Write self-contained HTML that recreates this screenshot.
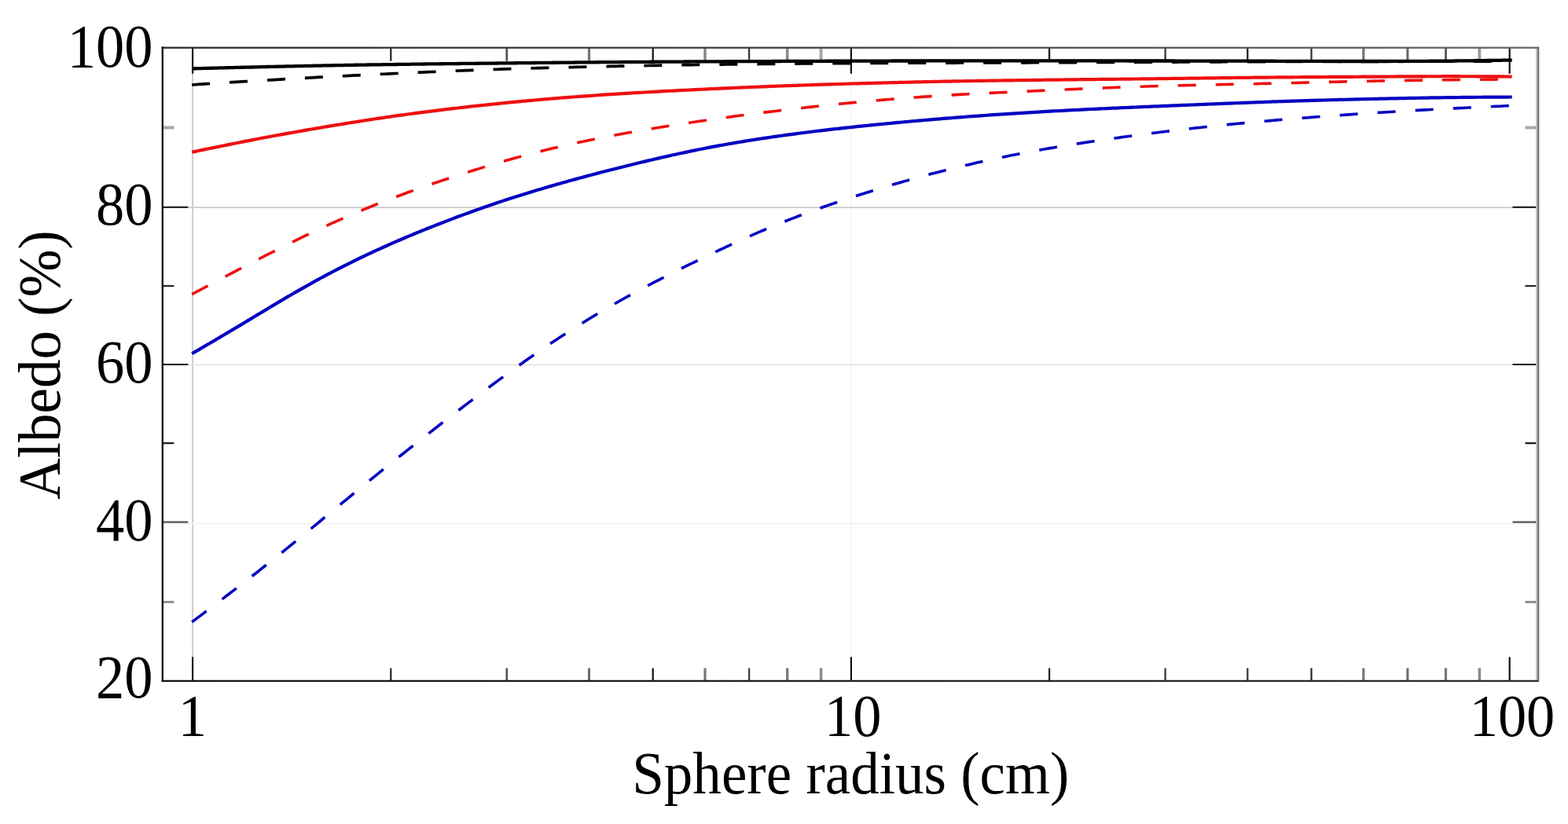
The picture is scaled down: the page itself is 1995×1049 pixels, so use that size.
<!DOCTYPE html>
<html lang="en"><head><meta charset="utf-8"><title>Albedo vs sphere radius</title>
<style>
html,body{margin:0;padding:0;background:#fff;}
body{width:1995px;height:1049px;overflow:hidden;position:relative;}
svg{display:block;position:absolute;left:0;top:0;filter:blur(0.35px);}
text{font-family:"Liberation Serif","DejaVu Serif",serif;fill:#000;}
.tk{font-size:72.5px;}
.ax{font-size:73.1px;}
</style></head><body>
<svg width="1995" height="1049" viewBox="0 0 1995 1049">
<defs>
<linearGradient id="tg" gradientUnits="userSpaceOnUse" x1="206.8" y1="0" x2="1957.0" y2="0"><stop offset="0" stop-color="#2e2e2e"/><stop offset="0.5" stop-color="#444"/><stop offset="1" stop-color="#6a6a6a"/></linearGradient>
<linearGradient id="bg" gradientUnits="userSpaceOnUse" x1="206.8" y1="0" x2="1957.0" y2="0"><stop offset="0" stop-color="#141414"/><stop offset="1" stop-color="#2c2c2c"/></linearGradient>
</defs>
<rect x="0" y="0" width="1995" height="1049" fill="#fff"/>
<g fill="none" stroke-linecap="butt">
<line x1="245.1" y1="60.75" x2="245.1" y2="866.9" stroke="#c6c6c6" stroke-width="1.7"/>
<line x1="1082.9" y1="60.75" x2="1082.9" y2="866.9" stroke="#f7f7f7" stroke-width="2"/>
<line x1="206.8" y1="264.1" x2="1957.0" y2="264.1" stroke="#cccccc" stroke-width="1.8"/>
<line x1="206.8" y1="464.4" x2="1957.0" y2="464.4" stroke="#e3e3e3" stroke-width="1.8"/>
<line x1="206.8" y1="666.5" x2="1957.0" y2="666.5" stroke="#f1f1f1" stroke-width="1.8"/>
</g>
<g fill="none" stroke-linecap="butt">
<line x1="245.1" y1="60.75" x2="245.1" y2="93.75" stroke="#111" stroke-width="2.2"/>
<line x1="245.1" y1="866.9" x2="245.1" y2="836.4" stroke="#111" stroke-width="2.2"/>
<line x1="1082.9" y1="60.75" x2="1082.9" y2="93.75" stroke="#111" stroke-width="2.2"/>
<line x1="1082.9" y1="866.9" x2="1082.9" y2="836.4" stroke="#111" stroke-width="2.2"/>
<line x1="1920.7" y1="60.75" x2="1920.7" y2="93.75" stroke="#111" stroke-width="2.2"/>
<line x1="1920.7" y1="866.9" x2="1920.7" y2="836.4" stroke="#111" stroke-width="2.2"/>
<line x1="497.3" y1="60.75" x2="497.3" y2="77.75" stroke="#222222" stroke-width="2.2"/>
<line x1="497.3" y1="866.9" x2="497.3" y2="850.6" stroke="#222222" stroke-width="2.2"/>
<line x1="644.8" y1="60.75" x2="644.8" y2="77.75" stroke="#555555" stroke-width="2.74"/>
<line x1="644.8" y1="866.9" x2="644.8" y2="850.6" stroke="#555555" stroke-width="2.74"/>
<line x1="749.5" y1="60.75" x2="749.5" y2="77.75" stroke="#777777" stroke-width="3.24"/>
<line x1="749.5" y1="866.9" x2="749.5" y2="850.6" stroke="#6a6a6a" stroke-width="3.05"/>
<line x1="830.7" y1="60.75" x2="830.7" y2="77.75" stroke="#111111" stroke-width="2.2"/>
<line x1="830.7" y1="866.9" x2="830.7" y2="850.6" stroke="#111111" stroke-width="2.2"/>
<line x1="897.0" y1="60.75" x2="897.0" y2="77.75" stroke="#888888" stroke-width="3.49"/>
<line x1="897.0" y1="866.9" x2="897.0" y2="850.6" stroke="#777777" stroke-width="3.24"/>
<line x1="953.1" y1="60.75" x2="953.1" y2="77.75" stroke="#3a3a3a" stroke-width="2.35"/>
<line x1="953.1" y1="866.9" x2="953.1" y2="850.6" stroke="#444444" stroke-width="2.49"/>
<line x1="1001.7" y1="60.75" x2="1001.7" y2="77.75" stroke="#888888" stroke-width="3.49"/>
<line x1="1001.7" y1="866.9" x2="1001.7" y2="850.6" stroke="#777777" stroke-width="3.24"/>
<line x1="1044.6" y1="60.75" x2="1044.6" y2="77.75" stroke="#a4a4a4" stroke-width="3.9"/>
<line x1="1044.6" y1="866.9" x2="1044.6" y2="850.6" stroke="#888888" stroke-width="3.49"/>
<line x1="1335.1" y1="60.75" x2="1335.1" y2="77.75" stroke="#111111" stroke-width="2.2"/>
<line x1="1335.1" y1="866.9" x2="1335.1" y2="850.6" stroke="#222222" stroke-width="2.2"/>
<line x1="1482.6" y1="60.75" x2="1482.6" y2="77.75" stroke="#444444" stroke-width="2.49"/>
<line x1="1482.6" y1="866.9" x2="1482.6" y2="850.6" stroke="#444444" stroke-width="2.49"/>
<line x1="1587.3" y1="60.75" x2="1587.3" y2="77.75" stroke="#1a1a1a" stroke-width="2.2"/>
<line x1="1587.3" y1="866.9" x2="1587.3" y2="850.6" stroke="#333333" stroke-width="2.24"/>
<line x1="1668.5" y1="60.75" x2="1668.5" y2="77.75" stroke="#333333" stroke-width="2.24"/>
<line x1="1668.5" y1="866.9" x2="1668.5" y2="850.6" stroke="#222222" stroke-width="2.2"/>
<line x1="1734.8" y1="60.75" x2="1734.8" y2="77.75" stroke="#777777" stroke-width="3.24"/>
<line x1="1734.8" y1="866.9" x2="1734.8" y2="850.6" stroke="#777777" stroke-width="3.24"/>
<line x1="1790.9" y1="60.75" x2="1790.9" y2="77.75" stroke="#666666" stroke-width="2.99"/>
<line x1="1790.9" y1="866.9" x2="1790.9" y2="850.6" stroke="#6a6a6a" stroke-width="3.05"/>
<line x1="1839.5" y1="60.75" x2="1839.5" y2="77.75" stroke="#4a4a4a" stroke-width="2.58"/>
<line x1="1839.5" y1="866.9" x2="1839.5" y2="850.6" stroke="#777777" stroke-width="3.24"/>
<line x1="1882.4" y1="60.75" x2="1882.4" y2="77.75" stroke="#9a9a9a" stroke-width="3.75"/>
<line x1="1882.4" y1="866.9" x2="1882.4" y2="850.6" stroke="#888888" stroke-width="3.49"/>
<line x1="206.8" y1="263.8" x2="239.3" y2="263.8" stroke="#111" stroke-width="2.0"/>
<line x1="1957.0" y1="263.8" x2="1924.5" y2="263.8" stroke="#111" stroke-width="2.0"/>
<line x1="206.8" y1="464.0" x2="239.3" y2="464.0" stroke="#111" stroke-width="2.0"/>
<line x1="1957.0" y1="464.0" x2="1924.5" y2="464.0" stroke="#111" stroke-width="2.0"/>
<line x1="206.8" y1="664.6" x2="239.3" y2="664.6" stroke="#555" stroke-width="2.4"/>
<line x1="1957.0" y1="664.6" x2="1924.5" y2="664.6" stroke="#555" stroke-width="2.4"/>
<line x1="206.8" y1="162.5" x2="221.4" y2="162.5" stroke="#a8a8a8" stroke-width="4.0"/>
<line x1="1957.0" y1="162.5" x2="1940.5" y2="162.5" stroke="#a8a8a8" stroke-width="4.0"/>
<line x1="206.8" y1="364.0" x2="221.4" y2="364.0" stroke="#262626" stroke-width="2.2"/>
<line x1="1957.0" y1="364.0" x2="1940.5" y2="364.0" stroke="#262626" stroke-width="2.2"/>
<line x1="206.8" y1="564.2" x2="221.4" y2="564.2" stroke="#141414" stroke-width="2.2"/>
<line x1="1957.0" y1="564.2" x2="1940.5" y2="564.2" stroke="#141414" stroke-width="2.2"/>
<line x1="206.8" y1="766.4" x2="221.4" y2="766.4" stroke="#8e8e8e" stroke-width="3.0"/>
<line x1="1957.0" y1="766.4" x2="1940.5" y2="766.4" stroke="#8e8e8e" stroke-width="3.0"/>
</g>
<g fill="none" stroke-linejoin="round" stroke-linecap="butt">
<path d="M244.2,791.91 L248.2,788.89 L252.2,785.86 L256.2,782.84 L260.2,779.81 L264.2,776.78 L268.2,773.75 L272.2,770.72 L276.2,767.68 L280.2,764.64 L284.2,761.59 L288.2,758.54 L292.2,755.48 L296.2,752.42 L300.2,749.34 L304.2,746.26 L308.2,743.17 L312.2,740.07 L316.2,736.96 L320.2,733.85 L324.2,730.72 L328.2,727.58 L332.2,724.42 L336.2,721.26 L340.2,718.09 L344.2,714.90 L348.2,711.70 L352.2,708.50 L356.2,705.28 L360.2,702.05 L364.2,698.82 L368.2,695.57 L372.2,692.32 L376.2,689.05 L380.2,685.78 L384.2,682.50 L388.2,679.22 L392.2,675.93 L396.2,672.64 L400.2,669.34 L404.2,666.04 L408.2,662.74 L412.2,659.43 L416.2,656.13 L420.2,652.82 L424.2,649.52 L428.2,646.21 L432.2,642.91 L436.2,639.61 L440.2,636.32 L444.2,633.03 L448.2,629.74 L452.2,626.46 L456.2,623.18 L460.2,619.91 L464.2,616.64 L468.2,613.38 L472.2,610.13 L476.2,606.88 L480.2,603.64 L484.2,600.41 L488.2,597.18 L492.2,593.96 L496.2,590.75 L500.2,587.55 L504.2,584.35 L508.2,581.16 L512.2,577.98 L516.2,574.80 L520.2,571.63 L524.2,568.47 L528.2,565.32 L532.2,562.17 L536.2,559.03 L540.2,555.89 L544.2,552.76 L548.2,549.64 L552.2,546.52 L556.2,543.40 L560.2,540.29 L564.2,537.19 L568.2,534.09 L572.2,531.00 L576.2,527.91 L580.2,524.84 L584.2,521.77 L588.2,518.70 L592.2,515.65 L596.2,512.60 L600.2,509.57 L604.2,506.54 L608.2,503.52 L612.2,500.51 L616.2,497.51 L620.2,494.52 L624.2,491.54 L628.2,488.57 L632.2,485.61 L636.2,482.67 L640.2,479.73 L644.2,476.81 L648.2,473.90 L652.2,471.01 L656.2,468.12 L660.2,465.26 L664.2,462.41 L668.2,459.57 L672.2,456.76 L676.2,453.95 L680.2,451.17 L684.2,448.40 L688.2,445.66 L692.2,442.93 L696.2,440.21 L700.2,437.52 L704.2,434.85 L708.2,432.19 L712.2,429.56 L716.2,426.95 L720.2,424.35 L724.2,421.78 L728.2,419.22 L732.2,416.69 L736.2,414.17 L740.2,411.68 L744.2,409.20 L748.2,406.75 L752.2,404.31 L756.2,401.89 L760.2,399.50 L764.2,397.12 L768.2,394.76 L772.2,392.42 L776.2,390.10 L780.2,387.80 L784.2,385.51 L788.2,383.25 L792.2,381.00 L796.2,378.77 L800.2,376.56 L804.2,374.37 L808.2,372.19 L812.2,370.03 L816.2,367.88 L820.2,365.75 L824.2,363.63 L828.2,361.53 L832.2,359.44 L836.2,357.37 L840.2,355.30 L844.2,353.25 L848.2,351.21 L852.2,349.18 L856.2,347.17 L860.2,345.16 L864.2,343.16 L868.2,341.17 L872.2,339.19 L876.2,337.22 L880.2,335.25 L884.2,333.30 L888.2,331.35 L892.2,329.41 L896.2,327.47 L900.2,325.55 L904.2,323.63 L908.2,321.72 L912.2,319.83 L916.2,317.94 L920.2,316.06 L924.2,314.20 L928.2,312.34 L932.2,310.49 L936.2,308.66 L940.2,306.84 L944.2,305.03 L948.2,303.24 L952.2,301.46 L956.2,299.69 L960.2,297.94 L964.2,296.20 L968.2,294.47 L972.2,292.77 L976.2,291.08 L980.2,289.40 L984.2,287.74 L988.2,286.09 L992.2,284.47 L996.2,282.85 L1000.2,281.25 L1004.2,279.67 L1008.2,278.11 L1012.2,276.56 L1016.2,275.02 L1020.2,273.50 L1024.2,272.00 L1028.2,270.51 L1032.2,269.03 L1036.2,267.57 L1040.2,266.13 L1044.2,264.69 L1048.2,263.27 L1052.2,261.87 L1056.2,260.48 L1060.2,259.10 L1064.2,257.73 L1068.2,256.38 L1072.2,255.04 L1076.2,253.71 L1080.2,252.39 L1084.2,251.08 L1088.2,249.78 L1092.2,248.50 L1096.2,247.22 L1100.2,245.96 L1104.2,244.70 L1108.2,243.45 L1112.2,242.22 L1116.2,240.99 L1120.2,239.77 L1124.2,238.56 L1128.2,237.36 L1132.2,236.18 L1136.2,235.00 L1140.2,233.83 L1144.2,232.67 L1148.2,231.52 L1152.2,230.38 L1156.2,229.25 L1160.2,228.13 L1164.2,227.02 L1168.2,225.92 L1172.2,224.83 L1176.2,223.74 L1180.2,222.67 L1184.2,221.61 L1188.2,220.56 L1192.2,219.51 L1196.2,218.48 L1200.2,217.46 L1204.2,216.44 L1208.2,215.44 L1212.2,214.44 L1216.2,213.46 L1220.2,212.49 L1224.2,211.52 L1228.2,210.57 L1232.2,209.63 L1236.2,208.70 L1240.2,207.77 L1244.2,206.86 L1248.2,205.96 L1252.2,205.08 L1256.2,204.20 L1260.2,203.33 L1264.2,202.47 L1268.2,201.62 L1272.2,200.78 L1276.2,199.95 L1280.2,199.14 L1284.2,198.33 L1288.2,197.53 L1292.2,196.74 L1296.2,195.95 L1300.2,195.18 L1304.2,194.42 L1308.2,193.67 L1312.2,192.92 L1316.2,192.18 L1320.2,191.46 L1324.2,190.74 L1328.2,190.03 L1332.2,189.32 L1336.2,188.63 L1340.2,187.94 L1344.2,187.27 L1348.2,186.60 L1352.2,185.94 L1356.2,185.28 L1360.2,184.63 L1364.2,183.99 L1368.2,183.36 L1372.2,182.73 L1376.2,182.11 L1380.2,181.50 L1384.2,180.89 L1388.2,180.29 L1392.2,179.69 L1396.2,179.10 L1400.2,178.52 L1404.2,177.94 L1408.2,177.36 L1412.2,176.79 L1416.2,176.23 L1420.2,175.67 L1424.2,175.11 L1428.2,174.56 L1432.2,174.01 L1436.2,173.47 L1440.2,172.93 L1444.2,172.40 L1448.2,171.87 L1452.2,171.34 L1456.2,170.82 L1460.2,170.31 L1464.2,169.79 L1468.2,169.29 L1472.2,168.78 L1476.2,168.28 L1480.2,167.79 L1484.2,167.29 L1488.2,166.81 L1492.2,166.33 L1496.2,165.85 L1500.2,165.37 L1504.2,164.90 L1508.2,164.44 L1512.2,163.98 L1516.2,163.52 L1520.2,163.07 L1524.2,162.63 L1528.2,162.18 L1532.2,161.75 L1536.2,161.31 L1540.2,160.89 L1544.2,160.46 L1548.2,160.04 L1552.2,159.63 L1556.2,159.22 L1560.2,158.81 L1564.2,158.41 L1568.2,158.02 L1572.2,157.62 L1576.2,157.24 L1580.2,156.85 L1584.2,156.48 L1588.2,156.10 L1592.2,155.73 L1596.2,155.36 L1600.2,155.00 L1604.2,154.64 L1608.2,154.29 L1612.2,153.94 L1616.2,153.59 L1620.2,153.25 L1624.2,152.91 L1628.2,152.57 L1632.2,152.24 L1636.2,151.91 L1640.2,151.58 L1644.2,151.25 L1648.2,150.93 L1652.2,150.61 L1656.2,150.30 L1660.2,149.99 L1664.2,149.68 L1668.2,149.37 L1672.2,149.06 L1676.2,148.76 L1680.2,148.46 L1684.2,148.16 L1688.2,147.87 L1692.2,147.58 L1696.2,147.29 L1700.2,147.00 L1704.2,146.71 L1708.2,146.43 L1712.2,146.14 L1716.2,145.86 L1720.2,145.58 L1724.2,145.31 L1728.2,145.03 L1732.2,144.76 L1736.2,144.49 L1740.2,144.22 L1744.2,143.96 L1748.2,143.69 L1752.2,143.43 L1756.2,143.18 L1760.2,142.93 L1764.2,142.68 L1768.2,142.43 L1772.2,142.19 L1776.2,141.95 L1780.2,141.71 L1784.2,141.48 L1788.2,141.25 L1792.2,141.02 L1796.2,140.80 L1800.2,140.58 L1804.2,140.36 L1808.2,140.14 L1812.2,139.92 L1816.2,139.70 L1820.2,139.49 L1824.2,139.28 L1828.2,139.07 L1832.2,138.86 L1836.2,138.65 L1840.2,138.44 L1844.2,138.24 L1848.2,138.04 L1852.2,137.84 L1856.2,137.64 L1860.2,137.44 L1864.2,137.25 L1868.2,137.05 L1872.2,136.86 L1876.2,136.67 L1880.2,136.48 L1884.2,136.29 L1888.2,136.11 L1892.2,135.92 L1896.2,135.74 L1900.2,135.55 L1904.2,135.37 L1908.2,135.19 L1912.2,135.01 L1916.2,134.82 L1920.2,134.64 L1921.5,134.58" stroke="#0404c2" stroke-width="3.6" stroke-dasharray="23 25.135"/>
<path d="M244.2,450.26 L248.2,447.92 L252.2,445.58 L256.2,443.23 L260.2,440.89 L264.2,438.54 L268.2,436.19 L272.2,433.84 L276.2,431.48 L280.2,429.12 L284.2,426.76 L288.2,424.38 L292.2,422.01 L296.2,419.63 L300.2,417.24 L304.2,414.85 L308.2,412.45 L312.2,410.05 L316.2,407.64 L320.2,405.23 L324.2,402.82 L328.2,400.41 L332.2,398.00 L336.2,395.59 L340.2,393.18 L344.2,390.78 L348.2,388.38 L352.2,386.00 L356.2,383.62 L360.2,381.25 L364.2,378.90 L368.2,376.56 L372.2,374.23 L376.2,371.92 L380.2,369.62 L384.2,367.34 L388.2,365.07 L392.2,362.83 L396.2,360.60 L400.2,358.38 L404.2,356.19 L408.2,354.01 L412.2,351.86 L416.2,349.72 L420.2,347.60 L424.2,345.50 L428.2,343.42 L432.2,341.36 L436.2,339.32 L440.2,337.30 L444.2,335.30 L448.2,333.32 L452.2,331.36 L456.2,329.41 L460.2,327.49 L464.2,325.58 L468.2,323.69 L472.2,321.81 L476.2,319.96 L480.2,318.12 L484.2,316.30 L488.2,314.49 L492.2,312.71 L496.2,310.93 L500.2,309.18 L504.2,307.43 L508.2,305.71 L512.2,303.99 L516.2,302.30 L520.2,300.61 L524.2,298.94 L528.2,297.29 L532.2,295.64 L536.2,294.01 L540.2,292.39 L544.2,290.79 L548.2,289.19 L552.2,287.61 L556.2,286.03 L560.2,284.47 L564.2,282.92 L568.2,281.39 L572.2,279.86 L576.2,278.34 L580.2,276.84 L584.2,275.34 L588.2,273.86 L592.2,272.39 L596.2,270.93 L600.2,269.48 L604.2,268.04 L608.2,266.61 L612.2,265.20 L616.2,263.79 L620.2,262.40 L624.2,261.02 L628.2,259.65 L632.2,258.30 L636.2,256.96 L640.2,255.63 L644.2,254.32 L648.2,253.02 L652.2,251.73 L656.2,250.45 L660.2,249.19 L664.2,247.93 L668.2,246.69 L672.2,245.46 L676.2,244.24 L680.2,243.04 L684.2,241.84 L688.2,240.65 L692.2,239.47 L696.2,238.30 L700.2,237.14 L704.2,235.98 L708.2,234.84 L712.2,233.71 L716.2,232.58 L720.2,231.46 L724.2,230.35 L728.2,229.24 L732.2,228.14 L736.2,227.05 L740.2,225.97 L744.2,224.89 L748.2,223.82 L752.2,222.75 L756.2,221.69 L760.2,220.64 L764.2,219.59 L768.2,218.55 L772.2,217.52 L776.2,216.49 L780.2,215.47 L784.2,214.45 L788.2,213.44 L792.2,212.44 L796.2,211.44 L800.2,210.45 L804.2,209.47 L808.2,208.49 L812.2,207.52 L816.2,206.56 L820.2,205.60 L824.2,204.65 L828.2,203.71 L832.2,202.77 L836.2,201.84 L840.2,200.92 L844.2,200.01 L848.2,199.11 L852.2,198.21 L856.2,197.32 L860.2,196.44 L864.2,195.57 L868.2,194.71 L872.2,193.86 L876.2,193.02 L880.2,192.18 L884.2,191.36 L888.2,190.55 L892.2,189.75 L896.2,188.96 L900.2,188.18 L904.2,187.42 L908.2,186.66 L912.2,185.91 L916.2,185.18 L920.2,184.45 L924.2,183.74 L928.2,183.03 L932.2,182.34 L936.2,181.65 L940.2,180.98 L944.2,180.31 L948.2,179.66 L952.2,179.01 L956.2,178.38 L960.2,177.75 L964.2,177.13 L968.2,176.52 L972.2,175.92 L976.2,175.32 L980.2,174.74 L984.2,174.16 L988.2,173.59 L992.2,173.02 L996.2,172.47 L1000.2,171.92 L1004.2,171.38 L1008.2,170.84 L1012.2,170.31 L1016.2,169.79 L1020.2,169.28 L1024.2,168.77 L1028.2,168.27 L1032.2,167.77 L1036.2,167.28 L1040.2,166.79 L1044.2,166.31 L1048.2,165.84 L1052.2,165.37 L1056.2,164.91 L1060.2,164.45 L1064.2,164.00 L1068.2,163.55 L1072.2,163.11 L1076.2,162.67 L1080.2,162.24 L1084.2,161.81 L1088.2,161.38 L1092.2,160.96 L1096.2,160.55 L1100.2,160.13 L1104.2,159.72 L1108.2,159.32 L1112.2,158.92 L1116.2,158.52 L1120.2,158.13 L1124.2,157.74 L1128.2,157.35 L1132.2,156.97 L1136.2,156.59 L1140.2,156.21 L1144.2,155.84 L1148.2,155.47 L1152.2,155.10 L1156.2,154.74 L1160.2,154.38 L1164.2,154.02 L1168.2,153.67 L1172.2,153.32 L1176.2,152.97 L1180.2,152.63 L1184.2,152.29 L1188.2,151.95 L1192.2,151.62 L1196.2,151.29 L1200.2,150.96 L1204.2,150.64 L1208.2,150.32 L1212.2,150.00 L1216.2,149.69 L1220.2,149.38 L1224.2,149.07 L1228.2,148.77 L1232.2,148.46 L1236.2,148.17 L1240.2,147.87 L1244.2,147.58 L1248.2,147.29 L1252.2,147.00 L1256.2,146.72 L1260.2,146.44 L1264.2,146.16 L1268.2,145.88 L1272.2,145.61 L1276.2,145.34 L1280.2,145.08 L1284.2,144.81 L1288.2,144.55 L1292.2,144.30 L1296.2,144.04 L1300.2,143.79 L1304.2,143.55 L1308.2,143.30 L1312.2,143.06 L1316.2,142.83 L1320.2,142.59 L1324.2,142.36 L1328.2,142.13 L1332.2,141.91 L1336.2,141.68 L1340.2,141.46 L1344.2,141.24 L1348.2,141.03 L1352.2,140.81 L1356.2,140.60 L1360.2,140.40 L1364.2,140.19 L1368.2,139.99 L1372.2,139.78 L1376.2,139.59 L1380.2,139.39 L1384.2,139.19 L1388.2,139.00 L1392.2,138.81 L1396.2,138.62 L1400.2,138.44 L1404.2,138.25 L1408.2,138.07 L1412.2,137.89 L1416.2,137.71 L1420.2,137.53 L1424.2,137.35 L1428.2,137.18 L1432.2,137.00 L1436.2,136.83 L1440.2,136.66 L1444.2,136.48 L1448.2,136.31 L1452.2,136.14 L1456.2,135.97 L1460.2,135.80 L1464.2,135.63 L1468.2,135.46 L1472.2,135.30 L1476.2,135.13 L1480.2,134.96 L1484.2,134.80 L1488.2,134.63 L1492.2,134.46 L1496.2,134.30 L1500.2,134.13 L1504.2,133.97 L1508.2,133.81 L1512.2,133.64 L1516.2,133.48 L1520.2,133.32 L1524.2,133.15 L1528.2,132.99 L1532.2,132.83 L1536.2,132.67 L1540.2,132.51 L1544.2,132.35 L1548.2,132.19 L1552.2,132.03 L1556.2,131.87 L1560.2,131.71 L1564.2,131.56 L1568.2,131.40 L1572.2,131.25 L1576.2,131.09 L1580.2,130.94 L1584.2,130.79 L1588.2,130.63 L1592.2,130.48 L1596.2,130.33 L1600.2,130.19 L1604.2,130.04 L1608.2,129.89 L1612.2,129.75 L1616.2,129.61 L1620.2,129.47 L1624.2,129.33 L1628.2,129.19 L1632.2,129.06 L1636.2,128.92 L1640.2,128.79 L1644.2,128.66 L1648.2,128.54 L1652.2,128.41 L1656.2,128.29 L1660.2,128.17 L1664.2,128.05 L1668.2,127.93 L1672.2,127.82 L1676.2,127.70 L1680.2,127.59 L1684.2,127.48 L1688.2,127.37 L1692.2,127.26 L1696.2,127.16 L1700.2,127.05 L1704.2,126.95 L1708.2,126.85 L1712.2,126.75 L1716.2,126.65 L1720.2,126.55 L1724.2,126.45 L1728.2,126.36 L1732.2,126.26 L1736.2,126.17 L1740.2,126.08 L1744.2,125.98 L1748.2,125.89 L1752.2,125.80 L1756.2,125.71 L1760.2,125.63 L1764.2,125.54 L1768.2,125.45 L1772.2,125.37 L1776.2,125.28 L1780.2,125.20 L1784.2,125.12 L1788.2,125.04 L1792.2,124.96 L1796.2,124.89 L1800.2,124.81 L1804.2,124.74 L1808.2,124.67 L1812.2,124.60 L1816.2,124.53 L1820.2,124.46 L1824.2,124.40 L1828.2,124.34 L1832.2,124.29 L1836.2,124.23 L1840.2,124.18 L1844.2,124.13 L1848.2,124.08 L1852.2,124.03 L1856.2,123.99 L1860.2,123.95 L1864.2,123.91 L1868.2,123.87 L1872.2,123.84 L1876.2,123.80 L1880.2,123.77 L1884.2,123.74 L1888.2,123.71 L1892.2,123.69 L1896.2,123.66 L1900.2,123.63 L1904.2,123.61 L1908.2,123.58 L1912.2,123.56 L1916.2,123.54 L1920.2,123.51 L1923.7,123.49" stroke="#0404c2" stroke-width="4.2"/>
<path d="M244.2,374.63 L248.2,372.50 L252.2,370.37 L256.2,368.24 L260.2,366.11 L264.2,363.99 L268.2,361.86 L272.2,359.74 L276.2,357.62 L280.2,355.50 L284.2,353.38 L288.2,351.26 L292.2,349.15 L296.2,347.04 L300.2,344.93 L304.2,342.83 L308.2,340.73 L312.2,338.63 L316.2,336.54 L320.2,334.46 L324.2,332.38 L328.2,330.31 L332.2,328.24 L336.2,326.18 L340.2,324.13 L344.2,322.09 L348.2,320.05 L352.2,318.02 L356.2,316.01 L360.2,314.00 L364.2,312.00 L368.2,310.01 L372.2,308.03 L376.2,306.06 L380.2,304.10 L384.2,302.15 L388.2,300.22 L392.2,298.30 L396.2,296.39 L400.2,294.49 L404.2,292.60 L408.2,290.73 L412.2,288.88 L416.2,287.03 L420.2,285.21 L424.2,283.40 L428.2,281.60 L432.2,279.82 L436.2,278.06 L440.2,276.31 L444.2,274.58 L448.2,272.87 L452.2,271.17 L456.2,269.48 L460.2,267.81 L464.2,266.16 L468.2,264.52 L472.2,262.90 L476.2,261.29 L480.2,259.70 L484.2,258.12 L488.2,256.55 L492.2,255.00 L496.2,253.47 L500.2,251.94 L504.2,250.44 L508.2,248.94 L512.2,247.46 L516.2,245.99 L520.2,244.53 L524.2,243.09 L528.2,241.66 L532.2,240.24 L536.2,238.83 L540.2,237.43 L544.2,236.04 L548.2,234.66 L552.2,233.30 L556.2,231.94 L560.2,230.59 L564.2,229.25 L568.2,227.92 L572.2,226.60 L576.2,225.29 L580.2,223.98 L584.2,222.69 L588.2,221.40 L592.2,220.12 L596.2,218.85 L600.2,217.59 L604.2,216.34 L608.2,215.10 L612.2,213.86 L616.2,212.64 L620.2,211.42 L624.2,210.21 L628.2,209.02 L632.2,207.84 L636.2,206.66 L640.2,205.50 L644.2,204.35 L648.2,203.21 L652.2,202.09 L656.2,200.98 L660.2,199.88 L664.2,198.79 L668.2,197.72 L672.2,196.65 L676.2,195.61 L680.2,194.57 L684.2,193.54 L688.2,192.53 L692.2,191.53 L696.2,190.55 L700.2,189.57 L704.2,188.61 L708.2,187.67 L712.2,186.73 L716.2,185.81 L720.2,184.89 L724.2,183.99 L728.2,183.10 L732.2,182.23 L736.2,181.36 L740.2,180.50 L744.2,179.66 L748.2,178.82 L752.2,178.00 L756.2,177.19 L760.2,176.38 L764.2,175.59 L768.2,174.80 L772.2,174.03 L776.2,173.26 L780.2,172.50 L784.2,171.75 L788.2,171.01 L792.2,170.28 L796.2,169.55 L800.2,168.83 L804.2,168.12 L808.2,167.42 L812.2,166.72 L816.2,166.03 L820.2,165.34 L824.2,164.67 L828.2,164.00 L832.2,163.33 L836.2,162.67 L840.2,162.02 L844.2,161.37 L848.2,160.73 L852.2,160.09 L856.2,159.46 L860.2,158.83 L864.2,158.21 L868.2,157.59 L872.2,156.98 L876.2,156.37 L880.2,155.77 L884.2,155.17 L888.2,154.58 L892.2,153.99 L896.2,153.41 L900.2,152.83 L904.2,152.26 L908.2,151.69 L912.2,151.13 L916.2,150.57 L920.2,150.01 L924.2,149.46 L928.2,148.91 L932.2,148.37 L936.2,147.83 L940.2,147.30 L944.2,146.77 L948.2,146.24 L952.2,145.71 L956.2,145.19 L960.2,144.68 L964.2,144.17 L968.2,143.66 L972.2,143.16 L976.2,142.66 L980.2,142.16 L984.2,141.67 L988.2,141.18 L992.2,140.70 L996.2,140.22 L1000.2,139.75 L1004.2,139.28 L1008.2,138.81 L1012.2,138.35 L1016.2,137.89 L1020.2,137.43 L1024.2,136.98 L1028.2,136.54 L1032.2,136.10 L1036.2,135.66 L1040.2,135.23 L1044.2,134.80 L1048.2,134.37 L1052.2,133.95 L1056.2,133.53 L1060.2,133.12 L1064.2,132.71 L1068.2,132.31 L1072.2,131.91 L1076.2,131.52 L1080.2,131.13 L1084.2,130.74 L1088.2,130.36 L1092.2,129.99 L1096.2,129.61 L1100.2,129.25 L1104.2,128.88 L1108.2,128.53 L1112.2,128.17 L1116.2,127.82 L1120.2,127.48 L1124.2,127.14 L1128.2,126.80 L1132.2,126.47 L1136.2,126.14 L1140.2,125.82 L1144.2,125.50 L1148.2,125.19 L1152.2,124.88 L1156.2,124.57 L1160.2,124.27 L1164.2,123.98 L1168.2,123.69 L1172.2,123.41 L1176.2,123.13 L1180.2,122.85 L1184.2,122.58 L1188.2,122.32 L1192.2,122.06 L1196.2,121.81 L1200.2,121.56 L1204.2,121.32 L1208.2,121.08 L1212.2,120.84 L1216.2,120.61 L1220.2,120.39 L1224.2,120.17 L1228.2,119.96 L1232.2,119.74 L1236.2,119.54 L1240.2,119.33 L1244.2,119.13 L1248.2,118.94 L1252.2,118.74 L1256.2,118.55 L1260.2,118.36 L1264.2,118.17 L1268.2,117.99 L1272.2,117.80 L1276.2,117.61 L1280.2,117.43 L1284.2,117.24 L1288.2,117.06 L1292.2,116.88 L1296.2,116.70 L1300.2,116.51 L1304.2,116.33 L1308.2,116.15 L1312.2,115.97 L1316.2,115.79 L1320.2,115.61 L1324.2,115.42 L1328.2,115.24 L1332.2,115.06 L1336.2,114.88 L1340.2,114.70 L1344.2,114.52 L1348.2,114.34 L1352.2,114.17 L1356.2,113.99 L1360.2,113.81 L1364.2,113.64 L1368.2,113.46 L1372.2,113.29 L1376.2,113.11 L1380.2,112.94 L1384.2,112.77 L1388.2,112.60 L1392.2,112.44 L1396.2,112.27 L1400.2,112.11 L1404.2,111.95 L1408.2,111.79 L1412.2,111.63 L1416.2,111.47 L1420.2,111.32 L1424.2,111.17 L1428.2,111.02 L1432.2,110.87 L1436.2,110.73 L1440.2,110.59 L1444.2,110.45 L1448.2,110.32 L1452.2,110.19 L1456.2,110.06 L1460.2,109.93 L1464.2,109.81 L1468.2,109.69 L1472.2,109.57 L1476.2,109.45 L1480.2,109.34 L1484.2,109.23 L1488.2,109.13 L1492.2,109.02 L1496.2,108.92 L1500.2,108.82 L1504.2,108.72 L1508.2,108.63 L1512.2,108.53 L1516.2,108.44 L1520.2,108.35 L1524.2,108.26 L1528.2,108.17 L1532.2,108.08 L1536.2,108.00 L1540.2,107.91 L1544.2,107.83 L1548.2,107.74 L1552.2,107.66 L1556.2,107.57 L1560.2,107.49 L1564.2,107.40 L1568.2,107.31 L1572.2,107.23 L1576.2,107.14 L1580.2,107.05 L1584.2,106.97 L1588.2,106.88 L1592.2,106.79 L1596.2,106.70 L1600.2,106.61 L1604.2,106.51 L1608.2,106.42 L1612.2,106.33 L1616.2,106.23 L1620.2,106.13 L1624.2,106.04 L1628.2,105.94 L1632.2,105.84 L1636.2,105.74 L1640.2,105.65 L1644.2,105.55 L1648.2,105.45 L1652.2,105.35 L1656.2,105.25 L1660.2,105.15 L1664.2,105.05 L1668.2,104.95 L1672.2,104.85 L1676.2,104.75 L1680.2,104.66 L1684.2,104.56 L1688.2,104.46 L1692.2,104.37 L1696.2,104.27 L1700.2,104.18 L1704.2,104.08 L1708.2,103.99 L1712.2,103.90 L1716.2,103.81 L1720.2,103.72 L1724.2,103.64 L1728.2,103.55 L1732.2,103.47 L1736.2,103.38 L1740.2,103.30 L1744.2,103.22 L1748.2,103.14 L1752.2,103.07 L1756.2,102.99 L1760.2,102.92 L1764.2,102.85 L1768.2,102.78 L1772.2,102.71 L1776.2,102.65 L1780.2,102.58 L1784.2,102.52 L1788.2,102.45 L1792.2,102.39 L1796.2,102.33 L1800.2,102.27 L1804.2,102.21 L1808.2,102.16 L1812.2,102.10 L1816.2,102.04 L1820.2,101.99 L1824.2,101.94 L1828.2,101.88 L1832.2,101.83 L1836.2,101.78 L1840.2,101.73 L1844.2,101.68 L1848.2,101.63 L1852.2,101.59 L1856.2,101.54 L1860.2,101.50 L1864.2,101.45 L1868.2,101.41 L1872.2,101.37 L1876.2,101.32 L1880.2,101.28 L1884.2,101.24 L1888.2,101.20 L1892.2,101.16 L1896.2,101.12 L1900.2,101.09 L1904.2,101.05 L1908.2,101.01 L1912.2,100.97 L1916.2,100.93 L1920.2,100.90 L1921.5,100.88" stroke="#ee1010" stroke-width="3.6" stroke-dasharray="23 25.06"/>
<path d="M244.2,193.67 L248.2,192.84 L252.2,192.01 L256.2,191.18 L260.2,190.36 L264.2,189.53 L268.2,188.71 L272.2,187.89 L276.2,187.07 L280.2,186.25 L284.2,185.44 L288.2,184.63 L292.2,183.83 L296.2,183.03 L300.2,182.24 L304.2,181.45 L308.2,180.66 L312.2,179.88 L316.2,179.10 L320.2,178.33 L324.2,177.56 L328.2,176.80 L332.2,176.04 L336.2,175.28 L340.2,174.53 L344.2,173.79 L348.2,173.05 L352.2,172.31 L356.2,171.58 L360.2,170.85 L364.2,170.13 L368.2,169.41 L372.2,168.70 L376.2,167.99 L380.2,167.28 L384.2,166.58 L388.2,165.89 L392.2,165.19 L396.2,164.50 L400.2,163.82 L404.2,163.13 L408.2,162.46 L412.2,161.78 L416.2,161.11 L420.2,160.44 L424.2,159.78 L428.2,159.12 L432.2,158.47 L436.2,157.81 L440.2,157.17 L444.2,156.52 L448.2,155.88 L452.2,155.25 L456.2,154.62 L460.2,153.99 L464.2,153.37 L468.2,152.75 L472.2,152.14 L476.2,151.53 L480.2,150.93 L484.2,150.34 L488.2,149.75 L492.2,149.17 L496.2,148.59 L500.2,148.02 L504.2,147.45 L508.2,146.90 L512.2,146.34 L516.2,145.79 L520.2,145.25 L524.2,144.72 L528.2,144.18 L532.2,143.66 L536.2,143.13 L540.2,142.62 L544.2,142.11 L548.2,141.60 L552.2,141.10 L556.2,140.60 L560.2,140.11 L564.2,139.62 L568.2,139.14 L572.2,138.66 L576.2,138.18 L580.2,137.72 L584.2,137.25 L588.2,136.79 L592.2,136.34 L596.2,135.89 L600.2,135.45 L604.2,135.01 L608.2,134.57 L612.2,134.14 L616.2,133.72 L620.2,133.30 L624.2,132.88 L628.2,132.47 L632.2,132.06 L636.2,131.65 L640.2,131.25 L644.2,130.86 L648.2,130.46 L652.2,130.08 L656.2,129.69 L660.2,129.31 L664.2,128.94 L668.2,128.56 L672.2,128.20 L676.2,127.83 L680.2,127.48 L684.2,127.12 L688.2,126.77 L692.2,126.43 L696.2,126.09 L700.2,125.75 L704.2,125.42 L708.2,125.10 L712.2,124.78 L716.2,124.46 L720.2,124.15 L724.2,123.84 L728.2,123.53 L732.2,123.23 L736.2,122.94 L740.2,122.65 L744.2,122.36 L748.2,122.07 L752.2,121.79 L756.2,121.52 L760.2,121.24 L764.2,120.97 L768.2,120.70 L772.2,120.44 L776.2,120.18 L780.2,119.92 L784.2,119.67 L788.2,119.42 L792.2,119.17 L796.2,118.92 L800.2,118.68 L804.2,118.44 L808.2,118.20 L812.2,117.96 L816.2,117.73 L820.2,117.50 L824.2,117.27 L828.2,117.05 L832.2,116.82 L836.2,116.60 L840.2,116.39 L844.2,116.17 L848.2,115.96 L852.2,115.75 L856.2,115.54 L860.2,115.34 L864.2,115.13 L868.2,114.93 L872.2,114.73 L876.2,114.53 L880.2,114.34 L884.2,114.14 L888.2,113.95 L892.2,113.76 L896.2,113.57 L900.2,113.38 L904.2,113.20 L908.2,113.01 L912.2,112.83 L916.2,112.65 L920.2,112.47 L924.2,112.29 L928.2,112.11 L932.2,111.94 L936.2,111.77 L940.2,111.59 L944.2,111.42 L948.2,111.25 L952.2,111.09 L956.2,110.92 L960.2,110.76 L964.2,110.60 L968.2,110.44 L972.2,110.28 L976.2,110.12 L980.2,109.96 L984.2,109.81 L988.2,109.66 L992.2,109.51 L996.2,109.36 L1000.2,109.21 L1004.2,109.07 L1008.2,108.92 L1012.2,108.78 L1016.2,108.64 L1020.2,108.50 L1024.2,108.37 L1028.2,108.23 L1032.2,108.10 L1036.2,107.97 L1040.2,107.84 L1044.2,107.71 L1048.2,107.59 L1052.2,107.46 L1056.2,107.34 L1060.2,107.22 L1064.2,107.10 L1068.2,106.98 L1072.2,106.86 L1076.2,106.75 L1080.2,106.63 L1084.2,106.52 L1088.2,106.41 L1092.2,106.29 L1096.2,106.18 L1100.2,106.07 L1104.2,105.97 L1108.2,105.86 L1112.2,105.75 L1116.2,105.65 L1120.2,105.54 L1124.2,105.44 L1128.2,105.34 L1132.2,105.24 L1136.2,105.14 L1140.2,105.04 L1144.2,104.94 L1148.2,104.84 L1152.2,104.75 L1156.2,104.65 L1160.2,104.56 L1164.2,104.46 L1168.2,104.37 L1172.2,104.28 L1176.2,104.19 L1180.2,104.11 L1184.2,104.02 L1188.2,103.94 L1192.2,103.86 L1196.2,103.77 L1200.2,103.70 L1204.2,103.62 L1208.2,103.54 L1212.2,103.47 L1216.2,103.39 L1220.2,103.32 L1224.2,103.25 L1228.2,103.19 L1232.2,103.12 L1236.2,103.05 L1240.2,102.99 L1244.2,102.93 L1248.2,102.87 L1252.2,102.81 L1256.2,102.75 L1260.2,102.69 L1264.2,102.63 L1268.2,102.57 L1272.2,102.51 L1276.2,102.46 L1280.2,102.40 L1284.2,102.35 L1288.2,102.29 L1292.2,102.24 L1296.2,102.19 L1300.2,102.13 L1304.2,102.08 L1308.2,102.03 L1312.2,101.98 L1316.2,101.92 L1320.2,101.87 L1324.2,101.82 L1328.2,101.77 L1332.2,101.72 L1336.2,101.67 L1340.2,101.63 L1344.2,101.58 L1348.2,101.53 L1352.2,101.48 L1356.2,101.44 L1360.2,101.39 L1364.2,101.35 L1368.2,101.30 L1372.2,101.26 L1376.2,101.22 L1380.2,101.17 L1384.2,101.13 L1388.2,101.09 L1392.2,101.05 L1396.2,101.01 L1400.2,100.97 L1404.2,100.93 L1408.2,100.89 L1412.2,100.85 L1416.2,100.81 L1420.2,100.77 L1424.2,100.73 L1428.2,100.69 L1432.2,100.65 L1436.2,100.61 L1440.2,100.57 L1444.2,100.52 L1448.2,100.48 L1452.2,100.43 L1456.2,100.39 L1460.2,100.34 L1464.2,100.30 L1468.2,100.25 L1472.2,100.20 L1476.2,100.15 L1480.2,100.10 L1484.2,100.05 L1488.2,100.00 L1492.2,99.95 L1496.2,99.90 L1500.2,99.85 L1504.2,99.80 L1508.2,99.75 L1512.2,99.70 L1516.2,99.65 L1520.2,99.60 L1524.2,99.54 L1528.2,99.49 L1532.2,99.44 L1536.2,99.39 L1540.2,99.34 L1544.2,99.29 L1548.2,99.24 L1552.2,99.19 L1556.2,99.15 L1560.2,99.10 L1564.2,99.05 L1568.2,99.00 L1572.2,98.96 L1576.2,98.91 L1580.2,98.87 L1584.2,98.83 L1588.2,98.78 L1592.2,98.74 L1596.2,98.70 L1600.2,98.66 L1604.2,98.62 L1608.2,98.59 L1612.2,98.55 L1616.2,98.51 L1620.2,98.48 L1624.2,98.45 L1628.2,98.41 L1632.2,98.38 L1636.2,98.35 L1640.2,98.32 L1644.2,98.29 L1648.2,98.26 L1652.2,98.23 L1656.2,98.20 L1660.2,98.17 L1664.2,98.15 L1668.2,98.12 L1672.2,98.09 L1676.2,98.07 L1680.2,98.04 L1684.2,98.01 L1688.2,97.99 L1692.2,97.96 L1696.2,97.94 L1700.2,97.91 L1704.2,97.89 L1708.2,97.86 L1712.2,97.84 L1716.2,97.81 L1720.2,97.79 L1724.2,97.76 L1728.2,97.74 L1732.2,97.72 L1736.2,97.69 L1740.2,97.67 L1744.2,97.64 L1748.2,97.62 L1752.2,97.60 L1756.2,97.57 L1760.2,97.55 L1764.2,97.53 L1768.2,97.51 L1772.2,97.48 L1776.2,97.46 L1780.2,97.44 L1784.2,97.42 L1788.2,97.40 L1792.2,97.38 L1796.2,97.36 L1800.2,97.34 L1804.2,97.32 L1808.2,97.30 L1812.2,97.29 L1816.2,97.27 L1820.2,97.26 L1824.2,97.25 L1828.2,97.24 L1832.2,97.23 L1836.2,97.22 L1840.2,97.22 L1844.2,97.21 L1848.2,97.21 L1852.2,97.22 L1856.2,97.22 L1860.2,97.23 L1864.2,97.23 L1868.2,97.24 L1872.2,97.26 L1876.2,97.27 L1880.2,97.28 L1884.2,97.30 L1888.2,97.32 L1892.2,97.34 L1896.2,97.36 L1900.2,97.38 L1904.2,97.41 L1908.2,97.43 L1912.2,97.46 L1916.2,97.48 L1920.2,97.51 L1923.7,97.53" stroke="#ee1010" stroke-width="4.2"/>
<path d="M244.2,107.98 L248.2,107.73 L252.2,107.47 L256.2,107.22 L260.2,106.97 L264.2,106.71 L268.2,106.46 L272.2,106.21 L276.2,105.95 L280.2,105.70 L284.2,105.45 L288.2,105.20 L292.2,104.95 L296.2,104.70 L300.2,104.45 L304.2,104.20 L308.2,103.96 L312.2,103.71 L316.2,103.47 L320.2,103.22 L324.2,102.98 L328.2,102.74 L332.2,102.50 L336.2,102.26 L340.2,102.02 L344.2,101.79 L348.2,101.55 L352.2,101.32 L356.2,101.09 L360.2,100.86 L364.2,100.63 L368.2,100.40 L372.2,100.18 L376.2,99.96 L380.2,99.73 L384.2,99.51 L388.2,99.29 L392.2,99.08 L396.2,98.86 L400.2,98.64 L404.2,98.43 L408.2,98.22 L412.2,98.01 L416.2,97.80 L420.2,97.59 L424.2,97.39 L428.2,97.18 L432.2,96.98 L436.2,96.77 L440.2,96.57 L444.2,96.37 L448.2,96.17 L452.2,95.97 L456.2,95.78 L460.2,95.58 L464.2,95.39 L468.2,95.19 L472.2,95.00 L476.2,94.81 L480.2,94.62 L484.2,94.43 L488.2,94.24 L492.2,94.05 L496.2,93.86 L500.2,93.68 L504.2,93.49 L508.2,93.31 L512.2,93.12 L516.2,92.94 L520.2,92.76 L524.2,92.58 L528.2,92.40 L532.2,92.22 L536.2,92.04 L540.2,91.87 L544.2,91.69 L548.2,91.52 L552.2,91.35 L556.2,91.17 L560.2,91.00 L564.2,90.83 L568.2,90.67 L572.2,90.50 L576.2,90.34 L580.2,90.17 L584.2,90.01 L588.2,89.85 L592.2,89.70 L596.2,89.54 L600.2,89.39 L604.2,89.24 L608.2,89.09 L612.2,88.94 L616.2,88.79 L620.2,88.65 L624.2,88.51 L628.2,88.37 L632.2,88.23 L636.2,88.10 L640.2,87.97 L644.2,87.84 L648.2,87.71 L652.2,87.58 L656.2,87.46 L660.2,87.34 L664.2,87.22 L668.2,87.10 L672.2,86.99 L676.2,86.87 L680.2,86.76 L684.2,86.65 L688.2,86.54 L692.2,86.43 L696.2,86.33 L700.2,86.22 L704.2,86.12 L708.2,86.02 L712.2,85.92 L716.2,85.82 L720.2,85.73 L724.2,85.63 L728.2,85.53 L732.2,85.44 L736.2,85.35 L740.2,85.26 L744.2,85.16 L748.2,85.07 L752.2,84.98 L756.2,84.90 L760.2,84.81 L764.2,84.72 L768.2,84.64 L772.2,84.55 L776.2,84.47 L780.2,84.38 L784.2,84.30 L788.2,84.22 L792.2,84.13 L796.2,84.05 L800.2,83.97 L804.2,83.89 L808.2,83.82 L812.2,83.74 L816.2,83.66 L820.2,83.59 L824.2,83.51 L828.2,83.44 L832.2,83.36 L836.2,83.29 L840.2,83.22 L844.2,83.15 L848.2,83.09 L852.2,83.02 L856.2,82.95 L860.2,82.89 L864.2,82.82 L868.2,82.76 L872.2,82.70 L876.2,82.64 L880.2,82.58 L884.2,82.52 L888.2,82.47 L892.2,82.41 L896.2,82.35 L900.2,82.30 L904.2,82.25 L908.2,82.19 L912.2,82.14 L916.2,82.09 L920.2,82.04 L924.2,81.99 L928.2,81.94 L932.2,81.90 L936.2,81.85 L940.2,81.80 L944.2,81.76 L948.2,81.71 L952.2,81.67 L956.2,81.63 L960.2,81.58 L964.2,81.54 L968.2,81.50 L972.2,81.46 L976.2,81.42 L980.2,81.38 L984.2,81.34 L988.2,81.30 L992.2,81.27 L996.2,81.23 L1000.2,81.19 L1004.2,81.16 L1008.2,81.12 L1012.2,81.09 L1016.2,81.05 L1020.2,81.02 L1024.2,80.99 L1028.2,80.96 L1032.2,80.92 L1036.2,80.89 L1040.2,80.86 L1044.2,80.83 L1048.2,80.80 L1052.2,80.78 L1056.2,80.75 L1060.2,80.72 L1064.2,80.69 L1068.2,80.67 L1072.2,80.64 L1076.2,80.62 L1080.2,80.59 L1084.2,80.57 L1088.2,80.55 L1092.2,80.52 L1096.2,80.50 L1100.2,80.48 L1104.2,80.46 L1108.2,80.44 L1112.2,80.42 L1116.2,80.40 L1120.2,80.38 L1124.2,80.36 L1128.2,80.34 L1132.2,80.33 L1136.2,80.31 L1140.2,80.29 L1144.2,80.27 L1148.2,80.26 L1152.2,80.24 L1156.2,80.23 L1160.2,80.21 L1164.2,80.20 L1168.2,80.18 L1172.2,80.17 L1176.2,80.15 L1180.2,80.14 L1184.2,80.13 L1188.2,80.11 L1192.2,80.10 L1196.2,80.09 L1200.2,80.07 L1204.2,80.06 L1208.2,80.05 L1212.2,80.04 L1216.2,80.03 L1220.2,80.01 L1224.2,80.00 L1228.2,79.99 L1232.2,79.98 L1236.2,79.97 L1240.2,79.96 L1244.2,79.95 L1248.2,79.94 L1252.2,79.93 L1256.2,79.92 L1260.2,79.91 L1264.2,79.90 L1268.2,79.89 L1272.2,79.88 L1276.2,79.87 L1280.2,79.86 L1284.2,79.85 L1288.2,79.84 L1292.2,79.82 L1296.2,79.81 L1300.2,79.80 L1304.2,79.79 L1308.2,79.78 L1312.2,79.77 L1316.2,79.76 L1320.2,79.75 L1324.2,79.74 L1328.2,79.73 L1332.2,79.71 L1336.2,79.70 L1340.2,79.69 L1344.2,79.68 L1348.2,79.66 L1352.2,79.65 L1356.2,79.64 L1360.2,79.62 L1364.2,79.61 L1368.2,79.59 L1372.2,79.58 L1376.2,79.57 L1380.2,79.55 L1384.2,79.53 L1388.2,79.52 L1392.2,79.50 L1396.2,79.49 L1400.2,79.47 L1404.2,79.45 L1408.2,79.44 L1412.2,79.42 L1416.2,79.40 L1420.2,79.39 L1424.2,79.37 L1428.2,79.35 L1432.2,79.33 L1436.2,79.31 L1440.2,79.30 L1444.2,79.28 L1448.2,79.26 L1452.2,79.24 L1456.2,79.22 L1460.2,79.20 L1464.2,79.19 L1468.2,79.17 L1472.2,79.15 L1476.2,79.13 L1480.2,79.11 L1484.2,79.09 L1488.2,79.07 L1492.2,79.06 L1496.2,79.04 L1500.2,79.02 L1504.2,79.00 L1508.2,78.98 L1512.2,78.96 L1516.2,78.95 L1520.2,78.93 L1524.2,78.91 L1528.2,78.89 L1532.2,78.88 L1536.2,78.86 L1540.2,78.84 L1544.2,78.82 L1548.2,78.81 L1552.2,78.79 L1556.2,78.77 L1560.2,78.76 L1564.2,78.74 L1568.2,78.72 L1572.2,78.71 L1576.2,78.69 L1580.2,78.68 L1584.2,78.66 L1588.2,78.65 L1592.2,78.63 L1596.2,78.62 L1600.2,78.60 L1604.2,78.59 L1608.2,78.58 L1612.2,78.56 L1616.2,78.55 L1620.2,78.54 L1624.2,78.52 L1628.2,78.51 L1632.2,78.50 L1636.2,78.49 L1640.2,78.48 L1644.2,78.47 L1648.2,78.46 L1652.2,78.45 L1656.2,78.44 L1660.2,78.43 L1664.2,78.42 L1668.2,78.41 L1672.2,78.40 L1676.2,78.40 L1680.2,78.39 L1684.2,78.38 L1688.2,78.37 L1692.2,78.37 L1696.2,78.36 L1700.2,78.35 L1704.2,78.35 L1708.2,78.34 L1712.2,78.34 L1716.2,78.33 L1720.2,78.33 L1724.2,78.33 L1728.2,78.32 L1732.2,78.32 L1736.2,78.31 L1740.2,78.31 L1744.2,78.31 L1748.2,78.30 L1752.2,78.30 L1756.2,78.30 L1760.2,78.29 L1764.2,78.29 L1768.2,78.29 L1772.2,78.29 L1776.2,78.28 L1780.2,78.28 L1784.2,78.28 L1788.2,78.27 L1792.2,78.27 L1796.2,78.27 L1800.2,78.27 L1804.2,78.26 L1808.2,78.26 L1812.2,78.26 L1816.2,78.25 L1820.2,78.25 L1824.2,78.25 L1828.2,78.24 L1832.2,78.24 L1836.2,78.23 L1840.2,78.23 L1844.2,78.22 L1848.2,78.22 L1852.2,78.21 L1856.2,78.21 L1860.2,78.20 L1864.2,78.20 L1868.2,78.19 L1872.2,78.19 L1876.2,78.18 L1880.2,78.17 L1884.2,78.17 L1888.2,78.16 L1892.2,78.15 L1896.2,78.15 L1900.2,78.14 L1904.2,78.13 L1908.2,78.12 L1912.2,78.12 L1916.2,78.11 L1920.2,78.10 L1921.5,78.10" stroke="#000000" stroke-width="3.7" stroke-dasharray="23 24.98"/>
<path d="M244.2,87.33 L248.2,87.23 L252.2,87.13 L256.2,87.04 L260.2,86.94 L264.2,86.84 L268.2,86.74 L272.2,86.64 L276.2,86.55 L280.2,86.45 L284.2,86.35 L288.2,86.25 L292.2,86.16 L296.2,86.06 L300.2,85.96 L304.2,85.86 L308.2,85.77 L312.2,85.67 L316.2,85.58 L320.2,85.48 L324.2,85.38 L328.2,85.29 L332.2,85.20 L336.2,85.10 L340.2,85.01 L344.2,84.92 L348.2,84.83 L352.2,84.73 L356.2,84.64 L360.2,84.56 L364.2,84.47 L368.2,84.38 L372.2,84.29 L376.2,84.20 L380.2,84.12 L384.2,84.04 L388.2,83.95 L392.2,83.87 L396.2,83.79 L400.2,83.71 L404.2,83.63 L408.2,83.55 L412.2,83.47 L416.2,83.40 L420.2,83.33 L424.2,83.25 L428.2,83.18 L432.2,83.11 L436.2,83.04 L440.2,82.97 L444.2,82.91 L448.2,82.84 L452.2,82.77 L456.2,82.71 L460.2,82.65 L464.2,82.58 L468.2,82.52 L472.2,82.46 L476.2,82.40 L480.2,82.34 L484.2,82.28 L488.2,82.22 L492.2,82.16 L496.2,82.11 L500.2,82.05 L504.2,81.99 L508.2,81.94 L512.2,81.88 L516.2,81.83 L520.2,81.78 L524.2,81.72 L528.2,81.67 L532.2,81.62 L536.2,81.57 L540.2,81.52 L544.2,81.47 L548.2,81.42 L552.2,81.37 L556.2,81.32 L560.2,81.27 L564.2,81.23 L568.2,81.18 L572.2,81.13 L576.2,81.09 L580.2,81.04 L584.2,81.00 L588.2,80.95 L592.2,80.91 L596.2,80.87 L600.2,80.82 L604.2,80.78 L608.2,80.74 L612.2,80.70 L616.2,80.66 L620.2,80.61 L624.2,80.57 L628.2,80.53 L632.2,80.49 L636.2,80.45 L640.2,80.41 L644.2,80.37 L648.2,80.33 L652.2,80.29 L656.2,80.25 L660.2,80.21 L664.2,80.17 L668.2,80.13 L672.2,80.09 L676.2,80.05 L680.2,80.01 L684.2,79.97 L688.2,79.93 L692.2,79.89 L696.2,79.85 L700.2,79.81 L704.2,79.77 L708.2,79.73 L712.2,79.69 L716.2,79.66 L720.2,79.62 L724.2,79.58 L728.2,79.54 L732.2,79.50 L736.2,79.47 L740.2,79.43 L744.2,79.39 L748.2,79.36 L752.2,79.32 L756.2,79.29 L760.2,79.25 L764.2,79.22 L768.2,79.18 L772.2,79.15 L776.2,79.12 L780.2,79.09 L784.2,79.06 L788.2,79.03 L792.2,79.00 L796.2,78.97 L800.2,78.94 L804.2,78.91 L808.2,78.89 L812.2,78.86 L816.2,78.83 L820.2,78.81 L824.2,78.78 L828.2,78.76 L832.2,78.73 L836.2,78.71 L840.2,78.68 L844.2,78.66 L848.2,78.64 L852.2,78.61 L856.2,78.59 L860.2,78.57 L864.2,78.55 L868.2,78.53 L872.2,78.51 L876.2,78.49 L880.2,78.47 L884.2,78.45 L888.2,78.43 L892.2,78.41 L896.2,78.39 L900.2,78.37 L904.2,78.35 L908.2,78.33 L912.2,78.31 L916.2,78.29 L920.2,78.28 L924.2,78.26 L928.2,78.24 L932.2,78.22 L936.2,78.21 L940.2,78.19 L944.2,78.17 L948.2,78.15 L952.2,78.14 L956.2,78.12 L960.2,78.11 L964.2,78.09 L968.2,78.07 L972.2,78.06 L976.2,78.04 L980.2,78.03 L984.2,78.01 L988.2,78.00 L992.2,77.98 L996.2,77.97 L1000.2,77.95 L1004.2,77.94 L1008.2,77.92 L1012.2,77.91 L1016.2,77.89 L1020.2,77.88 L1024.2,77.86 L1028.2,77.85 L1032.2,77.83 L1036.2,77.82 L1040.2,77.81 L1044.2,77.79 L1048.2,77.78 L1052.2,77.76 L1056.2,77.75 L1060.2,77.74 L1064.2,77.72 L1068.2,77.71 L1072.2,77.70 L1076.2,77.69 L1080.2,77.67 L1084.2,77.66 L1088.2,77.65 L1092.2,77.64 L1096.2,77.63 L1100.2,77.61 L1104.2,77.60 L1108.2,77.59 L1112.2,77.58 L1116.2,77.57 L1120.2,77.56 L1124.2,77.55 L1128.2,77.54 L1132.2,77.53 L1136.2,77.52 L1140.2,77.51 L1144.2,77.50 L1148.2,77.49 L1152.2,77.48 L1156.2,77.48 L1160.2,77.47 L1164.2,77.46 L1168.2,77.45 L1172.2,77.45 L1176.2,77.44 L1180.2,77.43 L1184.2,77.43 L1188.2,77.42 L1192.2,77.42 L1196.2,77.41 L1200.2,77.41 L1204.2,77.40 L1208.2,77.40 L1212.2,77.40 L1216.2,77.39 L1220.2,77.39 L1224.2,77.39 L1228.2,77.39 L1232.2,77.38 L1236.2,77.38 L1240.2,77.38 L1244.2,77.38 L1248.2,77.38 L1252.2,77.38 L1256.2,77.38 L1260.2,77.38 L1264.2,77.38 L1268.2,77.38 L1272.2,77.38 L1276.2,77.38 L1280.2,77.39 L1284.2,77.39 L1288.2,77.39 L1292.2,77.39 L1296.2,77.39 L1300.2,77.40 L1304.2,77.40 L1308.2,77.40 L1312.2,77.40 L1316.2,77.40 L1320.2,77.41 L1324.2,77.41 L1328.2,77.41 L1332.2,77.41 L1336.2,77.42 L1340.2,77.42 L1344.2,77.42 L1348.2,77.42 L1352.2,77.43 L1356.2,77.43 L1360.2,77.43 L1364.2,77.43 L1368.2,77.44 L1372.2,77.44 L1376.2,77.44 L1380.2,77.44 L1384.2,77.44 L1388.2,77.45 L1392.2,77.45 L1396.2,77.45 L1400.2,77.45 L1404.2,77.46 L1408.2,77.46 L1412.2,77.46 L1416.2,77.46 L1420.2,77.47 L1424.2,77.47 L1428.2,77.47 L1432.2,77.47 L1436.2,77.48 L1440.2,77.48 L1444.2,77.48 L1448.2,77.48 L1452.2,77.49 L1456.2,77.49 L1460.2,77.49 L1464.2,77.50 L1468.2,77.50 L1472.2,77.50 L1476.2,77.51 L1480.2,77.51 L1484.2,77.51 L1488.2,77.52 L1492.2,77.52 L1496.2,77.53 L1500.2,77.53 L1504.2,77.54 L1508.2,77.54 L1512.2,77.55 L1516.2,77.55 L1520.2,77.56 L1524.2,77.56 L1528.2,77.57 L1532.2,77.58 L1536.2,77.58 L1540.2,77.59 L1544.2,77.60 L1548.2,77.60 L1552.2,77.61 L1556.2,77.62 L1560.2,77.63 L1564.2,77.64 L1568.2,77.64 L1572.2,77.65 L1576.2,77.66 L1580.2,77.67 L1584.2,77.68 L1588.2,77.69 L1592.2,77.70 L1596.2,77.71 L1600.2,77.72 L1604.2,77.73 L1608.2,77.74 L1612.2,77.75 L1616.2,77.76 L1620.2,77.77 L1624.2,77.78 L1628.2,77.79 L1632.2,77.80 L1636.2,77.81 L1640.2,77.83 L1644.2,77.84 L1648.2,77.85 L1652.2,77.86 L1656.2,77.87 L1660.2,77.88 L1664.2,77.89 L1668.2,77.90 L1672.2,77.91 L1676.2,77.92 L1680.2,77.93 L1684.2,77.94 L1688.2,77.95 L1692.2,77.95 L1696.2,77.96 L1700.2,77.97 L1704.2,77.98 L1708.2,77.98 L1712.2,77.99 L1716.2,77.99 L1720.2,78.00 L1724.2,78.00 L1728.2,78.00 L1732.2,78.00 L1736.2,78.00 L1740.2,78.01 L1744.2,78.00 L1748.2,78.00 L1752.2,78.00 L1756.2,78.00 L1760.2,77.99 L1764.2,77.99 L1768.2,77.98 L1772.2,77.97 L1776.2,77.96 L1780.2,77.95 L1784.2,77.94 L1788.2,77.93 L1792.2,77.91 L1796.2,77.90 L1800.2,77.88 L1804.2,77.86 L1808.2,77.84 L1812.2,77.82 L1816.2,77.79 L1820.2,77.77 L1824.2,77.74 L1828.2,77.71 L1832.2,77.68 L1836.2,77.65 L1840.2,77.62 L1844.2,77.58 L1848.2,77.54 L1852.2,77.51 L1856.2,77.46 L1860.2,77.42 L1864.2,77.38 L1868.2,77.33 L1872.2,77.28 L1876.2,77.23 L1880.2,77.18 L1884.2,77.13 L1888.2,77.07 L1892.2,77.02 L1896.2,76.96 L1900.2,76.90 L1904.2,76.84 L1908.2,76.78 L1912.2,76.72 L1916.2,76.66 L1920.2,76.60 L1923.7,76.55" stroke="#000000" stroke-width="4.3"/>
</g>
<g fill="none" stroke-linecap="butt">
<line x1="1955.1" y1="61.9" x2="1955.1" y2="865.75" stroke="#bdbdbd" stroke-width="1.8"/>
<line x1="1957.2" y1="59.6" x2="1957.2" y2="868.05" stroke="#747474" stroke-width="2.3"/>
<rect x="205.65" y="59.6" width="1751.40" height="2.3" fill="url(#tg)" stroke="none"/>
<rect x="205.65" y="865.75" width="1751.40" height="2.3" fill="url(#bg)" stroke="none"/>
<line x1="206.8" y1="59.6" x2="206.8" y2="868.05" stroke="#0c0c0c" stroke-width="2.3"/>
</g>
<g class="tk" text-anchor="end">
<text transform="translate(194.5,84.8) scale(1,1.07)">100</text>
<text transform="translate(194.5,286.3) scale(1,1.07)">80</text>
<text transform="translate(194.5,487.2) scale(1,1.07)">60</text>
<text transform="translate(194.5,687.8) scale(1,1.07)">40</text>
<text transform="translate(194.5,888.4) scale(1,1.07)">20</text>
</g>
<g class="tk" text-anchor="middle">
<text transform="translate(244.8,936.5) scale(1,1.045)">1</text>
<text transform="translate(1085.3,936.5) scale(1,1.045)">10</text>
<text transform="translate(1924.0,936.5) scale(1,1.045)">100</text>
</g>
<g class="ax" text-anchor="middle">
<text transform="translate(1082.2,1009.8) scale(1,1.055)">Sphere radius (cm)</text>
<text transform="translate(76.2,464.6) rotate(-90) scale(1,1.047)">Albedo (%)</text>
</g>
</svg>
</body></html>
